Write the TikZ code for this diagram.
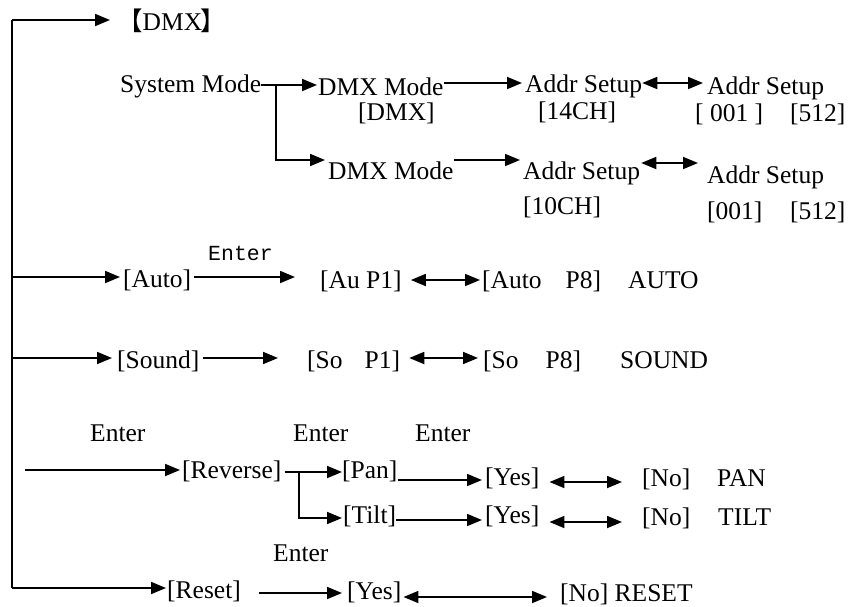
\documentclass[tikz,border=0pt]{standalone}
\usepackage{fontspec}
\setmainfont{Liberation Serif}
\newfontfamily\cjk{Noto Sans CJK SC}
\newfontfamily\monof{Liberation Mono}
\usetikzlibrary{arrows.meta,calc}
\begin{document}
\begin{tikzpicture}[x=1pt,y=-1pt,
  txt/.style={inner sep=0pt, anchor=west, text height=17pt, text depth=0pt, font=\fontsize{25.5pt}{30pt}\selectfont},
  monotxt/.style={txt, font=\monof\fontsize{21.5pt}{26pt}\selectfont},
  ln/.style={line width=1.8pt},
  arr/.style={ln, -{Triangle[length=15pt,width=12pt]}},
  darr/.style={ln, {Triangle[length=15pt,width=12pt]}-{Triangle[length=15pt,width=12pt]}}]
\useasboundingbox (0,0) rectangle (849,606);
% nodes
\node[txt] (dmx) at (117,22) {{\cjk 【}DMX{\cjk\kern-2pt 】}};
\node[txt] (sysm) at (120,84) {System Mode};
\node[txt] (dm1) at (318,87) {DMX Mode};
\node[txt] (dm1s) at (358,112) {[DMX]};
\node[txt] (ad1) at (525,84) {Addr Setup};
\node[txt] (ch14) at (538,111) {[14CH]};
\node[txt] (ad1r) at (707,86) {Addr Setup};
\node[txt] (a001) at (695,113) {[ 001 ]};
\node[txt] (a512) at (790,113) {[512]};
\node[txt] (dm2) at (328,171) {DMX Mode};
\node[txt] (ad2) at (523,171) {Addr Setup};
\node[txt] (ch10) at (523,206) {[10CH]};
\node[txt] (ad2r) at (707,175) {Addr Setup};
\node[txt] (b001) at (707,211) {[001]};
\node[txt] (b512) at (790,211) {[512]};
\node[txt] (auto) at (123,279) {[Auto]};
\node[monotxt] (ent1) at (208,252) {Enter};
\node[txt] (aup1) at (320,280) {[Au P1]};
\node[txt] (aup8) at (482,280) {[Auto\hspace{24pt}P8]};
\node[txt] (autot) at (628,280) {AUTO};
\node[txt] (sound) at (117,360) {[Sound]};
\node[txt] (sop1) at (307,360) {[So\hspace{22pt}P1]};
\node[txt] (sop8) at (483,360) {[So\hspace{27pt}P8]};
\node[txt] (soundt) at (620,360) {SOUND};
\node[txt] (ent2) at (90,433) {Enter};
\node[txt] (ent3) at (293,433) {Enter};
\node[txt] (ent4) at (415,433) {Enter};
\node[txt] (rev) at (182,470) {[Reverse]};
\node[txt] (pan) at (342,470) {[Pan]};
\node[txt] (tilt) at (343,515) {[Tilt]};
\node[txt] (yes1) at (485,477) {[Yes]};
\node[txt] (no1) at (642,478) {[No]};
\node[txt] (pant) at (717,478) {PAN};
\node[txt] (yes2) at (485,515) {[Yes]};
\node[txt] (no2) at (642,517) {[No]};
\node[txt] (tiltt) at (718,517) {TILT};
\node[txt] (ent5) at (273,553) {Enter};
\node[txt] (reset) at (167,590) {[Reset]};
\node[txt] (yes3) at (347,591) {[Yes]};
\node[txt] (no3) at (560,593) {[No] RESET};
% coordinates
\coordinate (sptop) at (12,20);
\coordinate (spbot) at (12,588);
\coordinate (revstart) at (25,470);
\coordinate (fork1) at (276,85);
\coordinate (fork2) at (299,472);
% connectors
\draw[ln] (sptop) -- (spbot);
\draw[arr] (sptop) -- ($(dmx.west|-sptop)+(-7,0)$);
\draw[arr] ($(sysm.east|-0,85)$) -- ($(dm1.west|-0,85)+(-1,0)$);
\draw[arr] (fork1) |- ($(dm2.west|-0,160)+(-3,0)$);
\draw[arr] ($(dm1.east|-0,83)$) -- ($(ad1.west|-0,83)+(-3,0)$);
\draw[darr] ($(ad1.east|-0,83)$) -- ($(ad1r.west|-0,83)+(-4,0)$);
\draw[arr] ($(dm2.east|-0,160)$) -- ($(ad2.west|-0,160)+(-3,0)$);
\draw[darr] ($(ad2.east|-0,163)+(1,0)$) -- ($(ad2r.west|-0,163)+(-9,0)$);
\draw[arr] (sptop|-0,277) -- ($(auto.west|-0,277)+(-3,0)$);
\draw[arr] ($(auto.east|-0,277)+(3,0)$) -- ($(aup1.west|-0,277)+(-25,0)$);
\draw[darr] ($(aup1.east|-0,280)+(9,0)$) -- ($(aup8.west|-0,280)+(-2,0)$);
\draw[arr] (sptop|-0,358) -- ($(sound.west|-0,358)+(-5,0)$);
\draw[arr] ($(sound.east|-0,358)+(3,0)$) -- ($(sop1.west|-0,358)+(-29,0)$);
\draw[darr] ($(sop1.east|-0,358)+(9,0)$) -- ($(sop8.west|-0,358)+(-5,0)$);
\draw[arr] (revstart) -- ($(rev.west|-revstart)+(-2,0)$);
\draw[arr] ($(rev.east|-0,472)+(3,0)$) -- ($(pan.west|-0,472)$);
\draw[arr] (fork2) |- ($(tilt.west|-0,518)+(-1,0)$);
\draw[arr] ($(pan.east|-0,480)$) -- ($(yes1.west|-0,480)+(-3,0)$);
\draw[darr] ($(yes1.east|-0,482)+(10,0)$) -- ($(no1.west|-0,482)+(-20,0)$);
\draw[arr] ($(tilt.east|-0,520)$) -- ($(yes2.west|-0,520)+(-3,0)$);
\draw[darr] ($(yes2.east|-0,522)+(10,0)$) -- ($(no2.west|-0,522)+(-20,0)$);
\draw[arr] (spbot) -- ($(reset.west|-spbot)+(-1,0)$);
\draw[arr] ($(reset.east|-0,593)+(18,0)$) -- ($(yes3.west|-0,593)+(-5,0)$);
\draw[darr] ($(yes3.east|-0,597)+(2,0)$) -- ($(no3.west|-0,597)+(-13,0)$);
\end{tikzpicture}
\end{document}
